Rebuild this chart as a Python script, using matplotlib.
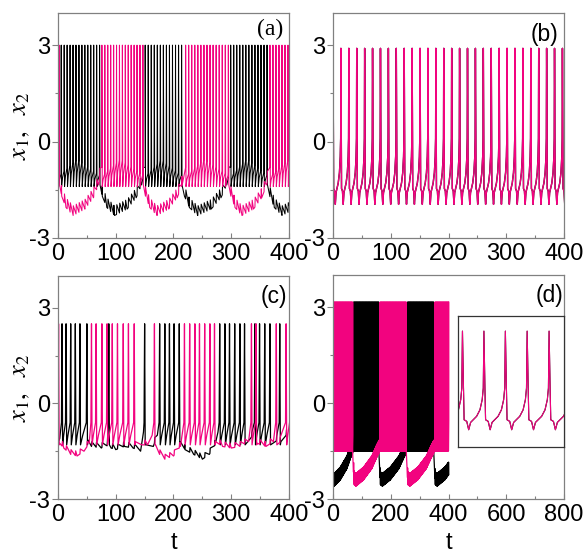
import numpy as np
import matplotlib.pyplot as plt
from matplotlib.ticker import MultipleLocator

plt.rcParams['font.family'] = ['Liberation Sans', 'DejaVu Sans']
plt.rcParams['mathtext.fontset'] = 'stix'
plt.rcParams['axes.unicode_minus'] = False

PINK = '#f2037f'
GRAY = '#808080'

# (a) anti-phase bursting: burst windows (first spike, last spike)
a_black_bursts = [(0.5, 72), (151, 214), (299, 362), (441, 505)]
a_pink_bursts = [(-3, 2), (76, 147), (221, 295), (367, 440)]
a_isi = 5.2
a_peak, a_trough = 3.0, -1.4
a_hump_frac = [0.0, 0.45, 1.0]
a_hump_level = [-1.1, -0.55, -1.05]
a_quiet_frac = [0.0, 0.05, 0.15, 0.32, 0.6, 0.8, 0.92, 1.0]
a_quiet_level = [-1.35, -1.7, -2.05, -2.3, -2.1, -1.75, -1.35, -0.8]
a_tooth = 0.3

# (b) synchronous tonic spiking
b_spikes = [0, 13.7, 27.4, 41.1, 54.8, 68.5, 82.2, 95.9, 109.6, 123.3, 137, 150.7,
            164.4, 178.1, 191.8, 205.5, 219.2, 232.9, 246.6, 260.3, 274, 287.7,
            301.4, 315.1, 328.8, 342.5, 356.2, 369.9, 383.6, 397.3]
spike_phase = [0, 0.046, 0.077, 0.2, 0.29, 0.38, 0.66, 0.815, 0.92, 0.97]
spike_shape = [2.9, 0.18, -1.46, -1.54, -1.95, -1.59, -1.29, -0.97, -0.47, 0.10]

# (c) irregular spike trains
c_black_spikes = [7, 14, 22, 30, 38, 50, 88, 150, 176, 185, 193, 201, 210, 280, 289, 297,
                  306, 315, 323, 341, 349, 358, 367, 384]
c_pink_spikes = [1, 58, 66, 76, 85, 94, 103, 113, 122, 132, 167, 219, 228, 237, 245, 254,
                 263, 271, 335, 343, 378, 395]
c_black_rest_t = [0, 3, 52, 58, 75, 82, 92, 100, 115, 130, 143, 148, 153, 165, 172,
                  212, 220, 235, 250, 262, 272, 277, 386, 395, 402]
c_black_rest_v = [-1.25, -1.1, -1.15, -1.35, -1.4, -1.3, -1.4, -1.45, -1.35, -1.4, -1.5,
                  -0.9, -1.3, -1.35, -1.0, -1.2, -1.45, -1.6, -1.75, -1.6, -1.3, -0.9,
                  -1.2, -1.0, -0.9]
c_pink_rest_t = [3, 10, 22, 33, 45, 54, 134, 145, 155, 163, 169, 176, 185, 200, 212,
                 273, 285, 300, 315, 330, 345, 360, 373, 397, 402]
c_pink_rest_v = [-1.25, -1.4, -1.6, -1.65, -1.5, -1.25, -1.2, -1.3, -1.3, -1.0, -1.3,
                 -1.6, -1.75, -1.65, -1.35, -1.2, -1.35, -1.4, -1.35, -1.2, -1.25,
                 -1.35, -1.2, -1.25, -1.2]
c_peak, c_trough, c_pre = 2.5, -1.3, -0.6
c_tooth = 0.15

# (d) fast bursting, data recorded up to t = 400
d_black_bursts = [(-95, -5), (71, 159), (258, 349), (445, 540)]
d_pink_bursts = [(-1, 68), (163, 254), (353, 445)]
d_isi = 1.3
d_peak, d_trough = 3.15, -1.5
d_hump_frac = [0.0, 0.5, 1.0]
d_hump_level = [-1.0, -0.5, -1.0]
d_quiet_frac = [0.0, 0.05, 0.12, 0.4, 0.7, 0.88, 1.0]
d_quiet_level = [-1.6, -2.55, -2.6, -2.4, -2.05, -1.7, -1.5]
d_tooth = 0.4
d_t_end = 401

# inset: a few periods after synchronisation
inset_spikes = [-10.5, 3.1, 16.5, 29.9, 43.5, 57.2, 70.8]


def burst_spikes(bursts, isi):
    return [np.linspace(b0, b1, int(round((b1 - b0) / isi)) + 1) for b0, b1 in bursts]


def burst_trace(trains, isi, peak, trough, hump_frac, hump_level,
                quiet_frac, quiet_level, other, tooth):
    t, v = [], []
    for i, sp in enumerate(trains):
        b0, b1 = sp[0], sp[-1]
        span = max(b1 - b0, 1e-9)
        lev = np.interp((sp - b0) / span, hump_frac, hump_level)
        for k in range(len(sp)):
            t.append(sp[k])
            v.append(peak)
            if k + 1 < len(sp):
                d = sp[k + 1] - sp[k]
                t += [sp[k] + 0.12 * d, sp[k] + 0.4 * d, sp[k + 1] - 0.08 * d]
                v += [trough, trough + 0.55 * (lev[k + 1] - trough), lev[k + 1]]
        if i + 1 < len(trains):
            q0 = b1 + 0.15 * isi
            q1 = trains[i + 1][0]
            pts = [(q0 + f * (q1 - q0), l) for f, l in zip(quiet_frac, quiet_level)]
            for s in other:
                if q0 + 0.5 < s < q1 - 1:
                    e0 = np.interp((s - q0) / (q1 - q0), quiet_frac, quiet_level)
                    e1 = np.interp((s + 0.5 - q0) / (q1 - q0), quiet_frac, quiet_level)
                    pts += [(s, e0), (s + 0.5, e1 + tooth)]
            pts.sort()
            t += [p[0] for p in pts]
            v += [p[1] for p in pts]
    return np.array(t), np.array(v)


def periodic_trace(spikes, phase, shape):
    t, v = [], []
    for k, ts in enumerate(spikes):
        d = spikes[k + 1] - ts if k + 1 < len(spikes) else ts - spikes[k - 1]
        t.extend(ts + d * np.asarray(phase))
        v.extend(shape)
    return np.array(t), np.array(v)


def train_trace(spikes, rest_t, rest_v, other, t_end, gap=12):
    rest = list(zip(rest_t, rest_v))
    t = [p[0] for p in rest if p[0] < spikes[0] - 1.5]
    v = [p[1] for p in rest if p[0] < spikes[0] - 1.5]
    t += [spikes[0] - 1.0]
    v += [c_pre]
    for k, ts in enumerate(spikes):
        t += [ts, ts + 1.0]
        v += [c_peak, c_trough]
        nxt = spikes[k + 1] if k + 1 < len(spikes) else t_end
        if nxt - ts <= gap:
            d = nxt - ts
            t += [ts + 0.4 * d, nxt - 1.0]
            v += [-1.0, c_pre]
            continue
        pts = [p for p in rest if ts + 1.5 < p[0] < nxt - 1.5]
        for s in other:
            if ts + 1.5 < s < nxt - 2:
                base = np.interp(s, rest_t, rest_v)
                pts += [(s, base), (s + 0.6, np.interp(s + 0.6, rest_t, rest_v) + c_tooth)]
        pts.sort()
        t += [p[0] for p in pts]
        v += [p[1] for p in pts]
        if k + 1 < len(spikes):
            t += [nxt - 1.0]
            v += [c_pre]
    return np.array(t), np.array(v)


def clip_end(t, v, t_end):
    keep = t <= t_end
    return t[keep], v[keep]


def style(ax, xmax, xmajor, xminor):
    ax.set_xlim(0, xmax)
    ax.set_ylim(-3, 4)
    ax.xaxis.set_major_locator(MultipleLocator(xmajor))
    ax.xaxis.set_minor_locator(MultipleLocator(xminor))
    ax.yaxis.set_major_locator(MultipleLocator(3))
    ax.yaxis.set_minor_locator(MultipleLocator(1.5))
    for s in ax.spines.values():
        s.set_color(GRAY)
        s.set_linewidth(0.9)
    ax.tick_params(axis='x', which='major', direction='in', length=3.5, width=0.8,
                   color=GRAY, pad=3.3, labelsize=17)
    ax.tick_params(axis='x', which='minor', direction='in', length=2, width=0.8, color=GRAY)
    ax.tick_params(axis='y', which='major', direction='out', length=4.5, width=0.8,
                   color=GRAY, pad=1, labelsize=17)
    ax.tick_params(axis='y', which='minor', direction='out', length=2, width=0.8, color=GRAY)


fig = plt.figure(figsize=(5.87, 5.56), dpi=100)
W, H = 587.0, 556.0


def add_axes(left, top, right, bottom):
    return fig.add_axes([left / W, 1 - bottom / H, (right - left) / W, (bottom - top) / H])


ax_a = add_axes(58, 13, 289, 238)
ax_b = add_axes(333, 13, 564, 238)
ax_c = add_axes(58, 276, 289, 499)
ax_d = add_axes(333, 275, 564, 499)

# (a)
a_black_sp = burst_spikes(a_black_bursts, a_isi)
a_pink_sp = burst_spikes(a_pink_bursts, a_isi)
tb, vb = burst_trace(a_black_sp, a_isi, a_peak, a_trough, a_hump_frac, a_hump_level,
                     a_quiet_frac, a_quiet_level, np.concatenate(a_pink_sp), a_tooth)
tp, vp = burst_trace(a_pink_sp, a_isi, a_peak, a_trough, a_hump_frac, a_hump_level,
                     a_quiet_frac, a_quiet_level, np.concatenate(a_black_sp), a_tooth)
ax_a.plot(tb, vb, color='black', lw=0.75)
ax_a.plot(tp, vp, color=PINK, lw=0.75)
style(ax_a, 400, 100, 50)
ax_a.text(0.974, 0.975, '(a)', transform=ax_a.transAxes, ha='right', va='top',
          fontsize=17, family=['Liberation Serif'])

# (b)
tb, vb = periodic_trace(b_spikes, spike_phase, spike_shape)
ax_b.plot(tb, vb, color='black', lw=1.0)
ax_b.plot(tb, vb, color=PINK, lw=1.0)
style(ax_b, 400, 100, 50)
ax_b.text(0.974, 0.955, '(b)', transform=ax_b.transAxes, ha='right', va='top', fontsize=16.5)

# (c)
tb, vb = train_trace(c_black_spikes, c_black_rest_t, c_black_rest_v, c_pink_spikes, 402)
tp, vp = train_trace(c_pink_spikes, c_pink_rest_t, c_pink_rest_v, c_black_spikes, 402)
ax_c.plot(tb, vb, color='black', lw=0.9)
ax_c.plot(tp, vp, color=PINK, lw=0.9)
style(ax_c, 400, 100, 50)
ax_c.text(0.99, 0.96, '(c)', transform=ax_c.transAxes, ha='right', va='top', fontsize=16.5)

# (d)
d_black_sp = burst_spikes(d_black_bursts, d_isi)
d_pink_sp = burst_spikes(d_pink_bursts, d_isi)
tb, vb = burst_trace(d_black_sp, d_isi, d_peak, d_trough, d_hump_frac, d_hump_level,
                     d_quiet_frac, d_quiet_level, np.concatenate(d_pink_sp), d_tooth)
tp, vp = burst_trace(d_pink_sp, d_isi, d_peak, d_trough, d_hump_frac, d_hump_level,
                     d_quiet_frac, d_quiet_level, np.concatenate(d_black_sp), d_tooth)
tb, vb = clip_end(tb, vb, d_t_end)
tp, vp = clip_end(tp, vp, d_t_end)
ax_d.plot(tb, vb, color='black', lw=0.9)
ax_d.plot(tp, vp, color=PINK, lw=0.9)
style(ax_d, 800, 200, 100)
ax_d.text(0.998, 0.962, '(d)', transform=ax_d.transAxes, ha='right', va='top', fontsize=16.5)

# inset of (d)
ax_in = add_axes(457.5, 315.5, 564.3, 447)
ti, vi = periodic_trace(inset_spikes, spike_phase, spike_shape)
ax_in.plot(ti, vi, color='black', lw=0.8)
ax_in.plot(ti, vi, color=PINK, lw=0.8)
ax_in.set_xlim(0, 66.7)
ax_in.set_ylim(-2.8, 3.67)
ax_in.set_xticks([])
ax_in.set_yticks([])
for s in ax_in.spines.values():
    s.set_color('#333333')
    s.set_linewidth(0.9)

# axis labels
for yc in (125.5, 387.5):
    fig.text(20 / W, 1 - yc / H, r'$x_1,\ \ x_2$', rotation=90, ha='center', va='center',
             fontsize=19)
for xc in (173.5, 448.5):
    fig.text(xc / W, 1 - 549 / H, 't', ha='center', va='baseline', fontsize=17)

fig.savefig('out.png', dpi=100)
